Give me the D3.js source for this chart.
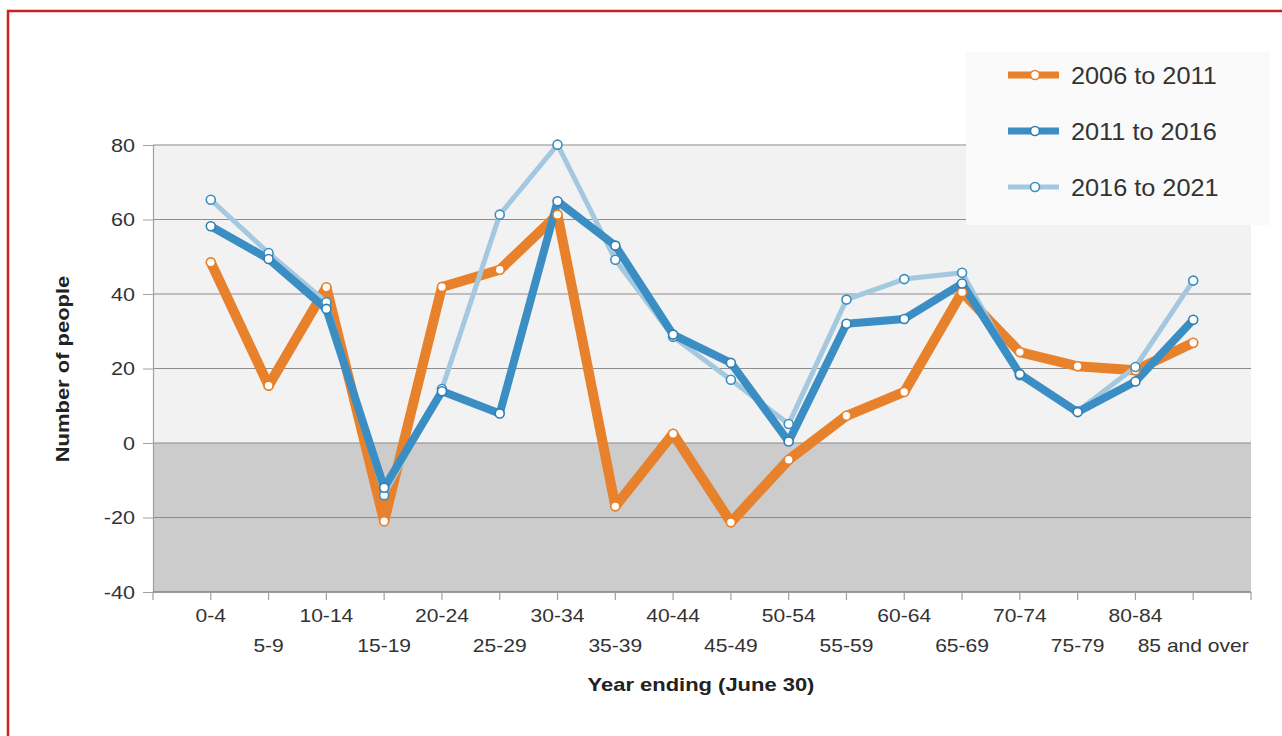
<!DOCTYPE html>
<html>
<head>
<meta charset="utf-8">
<script src="https://cdn.jsdelivr.net/npm/d3@7"></script>
<style>
  html, body { margin: 0; padding: 0; background: #fff; }
  svg { display: block; font-family: "Liberation Sans", Arial, sans-serif; }
</style>
</head>
<body>
<svg id="chart" width="1282" height="736"></svg>
<script>
const categories = ["0-4","5-9","10-14","15-19","20-24","25-29","30-34","35-39","40-44","45-49","50-54","55-59","60-64","65-69","70-74","75-79","80-84","85 and over"];
const series2006to2011 = [48.5, 15.4, 41.8, -21, 41.9, 46.5, 61.3, -17, 2.5, -21.3, -4.5, 7.3, 13.7, 40.5, 24.4, 20.6, 19.5, 26.9];
const series2011to2016 = [58.2, 49.4, 36, -12, 13.9, 7.9, 64.9, 53, 29.1, 21.5, 0.4, 32, 33.3, 42.8, 18.5, 8.3, 16.5, 33.1];
const series2016to2021 = [65.3, 51, 37.8, -14, 14.5, 61.3, 80.1, 49.2, 28.5, 17, 5.1, 38.5, 44, 45.7, 18.2, 8.5, 20.4, 43.6];
const seriesNames = ["2006 to 2011", "2011 to 2016", "2016 to 2021"];
const yTicks = [-40, -20, 0, 20, 40, 60, 80];

(function () {
const colors = ["#e8812b", "#3a8ec3", "#a3c8e0"];
const strokeW = [10, 8, 5];
const pointStroke = ["#e8812b", "#2f7fb3", "#3a8ec3"];

const svg = d3.select("#chart");

// red frame
svg.append("rect").attr("x", 8).attr("y", 11).attr("width", 1290).attr("height", 740)
  .attr("fill", "none").attr("stroke", "#cc1f1f").attr("stroke-width", 2.5);

const pLeft = 153, pRight = 1251, pTop = 145, pBottom = 592;
const x = d3.scalePoint().domain(categories).range([pLeft, pRight]).padding(1);
const y = d3.scaleLinear().domain([-40, 80]).range([pBottom, pTop]);

// backgrounds
svg.append("rect").attr("x", pLeft).attr("y", y(80)).attr("width", pRight - pLeft).attr("height", y(0) - y(80)).attr("fill", "#f2f2f2");
svg.append("rect").attr("x", pLeft).attr("y", y(0)).attr("width", pRight - pLeft).attr("height", y(-40) - y(0)).attr("fill", "#cccccc");

// gridlines
svg.append("g").selectAll("line").data(yTicks).join("line")
  .attr("x1", pLeft).attr("x2", pRight).attr("y1", d => y(d)).attr("y2", d => y(d))
  .attr("stroke", "#8c8c8c").attr("stroke-width", 1.2);

// y axis
const yAxis = d3.axisLeft(y).tickValues(yTicks).tickSize(10).tickPadding(8).tickFormat(d => String(d));
const gy = svg.append("g").attr("transform", `translate(${pLeft},0)`).call(yAxis);
gy.select(".domain").attr("stroke", "#a0a0a0").attr("stroke-width", 1.2);
gy.selectAll(".tick line").attr("stroke", "#a0a0a0");
gy.selectAll("text").attr("font-size", 18).attr("fill", "#333")
  .attr("font-family", "Liberation Sans, Arial, sans-serif")
  .attr("x", 0).attr("dy", "0.36em")
  .attr("transform", "translate(-18,0) scale(1.2,1)");

// x axis baseline + ticks
const xTickPositions = [pLeft].concat(categories.map(c => x(c))).concat([pRight]);
svg.append("line").attr("x1", pLeft).attr("x2", pRight).attr("y1", pBottom).attr("y2", pBottom)
  .attr("stroke", "#8c8c8c").attr("stroke-width", 1.5);
svg.append("g").selectAll("line").data(xTickPositions).join("line")
  .attr("x1", d => d).attr("x2", d => d).attr("y1", pBottom).attr("y2", pBottom + 8)
  .attr("stroke", "#a0a0a0").attr("stroke-width", 1.2);
svg.append("g").selectAll("text").data(categories).join("text")
  .attr("transform", (d, i) => `translate(${x(d)},${i % 2 === 0 ? 622 : 652}) scale(1.17,1)`)
  .attr("text-anchor", "middle").attr("font-size", 18).attr("fill", "#333")
  .text(d => d);

// axis titles
svg.append("text").attr("transform", "translate(69,369) rotate(-90) scale(1.22,1)")
  .attr("text-anchor", "middle").attr("font-size", 18).attr("font-weight", "bold").attr("fill", "#222")
  .text("Number of people");
svg.append("text").attr("transform", "translate(701,691) scale(1.22,1)")
  .attr("text-anchor", "middle").attr("font-size", 18).attr("font-weight", "bold").attr("fill", "#222")
  .text("Year ending (June 30)");

// lines
const all = [series2006to2011, series2011to2016, series2016to2021];
const line = d3.line().x((d, i) => x(categories[i])).y(d => y(d));
const drawOrder = [0, 2, 1];
drawOrder.forEach(si => {
  svg.append("path").datum(all[si]).attr("d", line)
    .attr("fill", "none").attr("stroke", colors[si]).attr("stroke-width", strokeW[si])
    .attr("stroke-linejoin", "round").attr("stroke-linecap", "round");
});
drawOrder.forEach(si => {
  svg.append("g").selectAll("circle").data(all[si]).join("circle")
    .attr("cx", (d, i) => x(categories[i])).attr("cy", d => y(d)).attr("r", 4.5)
    .attr("fill", "#fff").attr("stroke", pointStroke[si]).attr("stroke-width", 1.6);
});

// legend
const lg = svg.append("g");
lg.append("rect").attr("x", 966).attr("y", 52).attr("width", 304).attr("height", 173).attr("fill", "#fafafa");
seriesNames.forEach((name, i) => {
  const cy = 75 + i * 56;
  lg.append("line").attr("x1", 1008).attr("x2", 1059).attr("y1", cy).attr("y2", cy)
    .attr("stroke", colors[i]).attr("stroke-width", i < 2 ? 7 : 5);
  lg.append("circle").attr("cx", 1035).attr("cy", cy).attr("r", 4.5)
    .attr("fill", "#fff").attr("stroke", pointStroke[i]).attr("stroke-width", 1.6);
  lg.append("text").attr("transform", `translate(1071,${cy + 9}) scale(1.1,1)`)
    .attr("font-size", 23).attr("fill", "#333").text(name);
});
})();
</script>
</body>
</html>
